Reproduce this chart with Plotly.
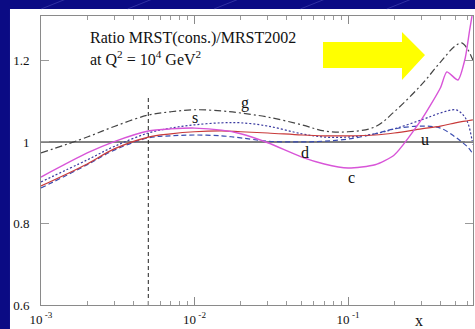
import numpy as np
import plotly.graph_objects as go

# ---- data ----
X = [0.001, 0.002, 0.003, 0.005, 0.007, 0.01, 0.015, 0.02, 0.03, 0.05, 0.07,
     0.1, 0.15, 0.2, 0.3, 0.4, 0.5, 0.55, 0.6, 0.65]
g_vals = [0.973, 1.012, 1.038, 1.066, 1.074, 1.079, 1.076, 1.071, 1.061, 1.042, 1.027,
          1.025, 1.037, 1.074, 1.140, 1.196, 1.236, 1.243, 1.228, 1.201]
s_vals = [0.902, 0.956, 0.989, 1.022, 1.034, 1.042, 1.047, 1.047, 1.039, 1.020, 1.012,
          1.012, 1.020, 1.032, 1.054, 1.071, 1.079, 1.070, 1.049, 0.993]
d_vals = [0.887, 0.944, 0.980, 1.010, 1.015, 1.017, 1.015, 1.010, 1.002, 1.000, 1.002,
          1.007, 1.020, 1.032, 1.039, 1.034, 1.012, 1.000, 0.988, 0.971]
u_vals = [0.892, 0.946, 0.983, 1.012, 1.020, 1.025, 1.027, 1.025, 1.022, 1.017, 1.015,
          1.015, 1.017, 1.022, 1.032, 1.039, 1.047, 1.050, 1.052, 1.054]
c_x = [0.001, 0.002, 0.003, 0.005, 0.007, 0.01, 0.015, 0.02, 0.03, 0.05, 0.07,
       0.1, 0.15, 0.2, 0.3, 0.4, 0.44, 0.52, 0.58, 0.62, 0.66]
c_vals = [0.914, 0.973, 1.001, 1.027, 1.032, 1.034, 1.029, 1.020, 0.998, 0.963, 0.946,
          0.936, 0.944, 0.968, 1.054, 1.133, 1.172, 1.152, 1.206, 1.275, 1.336]

x_cut = 0.005
x_tickvals = [0.001, 0.01, 0.1]
x_ticktext = ["10<sup> -3</sup>", "10<sup> -2</sup>", "10<sup> -1</sup>"]
y_tickvals = [0.6, 0.8, 1.0, 1.2]
y_ticktext = ["0.6", "0.8", "1", "1.2"]
labels = {"g": (0.0213, 1.096), "s": (0.01007, 1.061), "d": (0.0525, 0.975),
          "c": (0.1047, 0.914), "u": (0.318, 1.005)}

SERIF = "Liberation Serif, Times New Roman, serif"

fig = go.Figure()

# background panel
fig.add_shape(type="rect", xref="paper", yref="paper",
              x0=-0.0718, x1=1.01, y0=-0.09, y1=1.024,
              fillcolor="white", line_width=0, layer="below")

# faint diagonal lines on the blue slide background
for k in range(6):
    x0p = -0.2 + 0.2 * k
    fig.add_shape(type="line", xref="paper", yref="paper",
                  x0=x0p, y0=1.024, x1=x0p + 0.06, y1=1.06,
                  line=dict(color="rgba(120,120,220,0.35)", width=1), layer="below")

# reference line at 1 and cut at x=0.005
fig.add_trace(go.Scatter(x=[X[0], 1.0], y=[1, 1], mode="lines",
                         line=dict(color="#555555", width=1.6), hoverinfo="skip"))
fig.add_trace(go.Scatter(x=[x_cut, x_cut], y=[0.6, 1.115], mode="lines",
                         line=dict(color="#222222", width=1, dash="4px,3px"), hoverinfo="skip"))

fig.add_trace(go.Scatter(x=X, y=g_vals, mode="lines", name="g",
                         line=dict(color="#444444", width=1.2, dash="7px,3px,2px,3px", shape="spline")))
fig.add_trace(go.Scatter(x=X, y=s_vals, mode="lines", name="s",
                         line=dict(color="#3a3aa0", width=1.2, dash="2px,2px", shape="spline")))
fig.add_trace(go.Scatter(x=X, y=d_vals, mode="lines", name="d",
                         line=dict(color="#3a4cb0", width=1.2, dash="5px,3px", shape="spline")))
fig.add_trace(go.Scatter(x=X, y=u_vals, mode="lines", name="u",
                         line=dict(color="#c83a3a", width=1.2, shape="spline")))
fig.add_trace(go.Scatter(x=c_x, y=c_vals, mode="lines", name="c",
                         line=dict(color="#d855d8", width=1.4, shape="spline", smoothing=0.6)))

for name, (lx, ly) in labels.items():
    fig.add_annotation(x=np.log10(lx), y=ly, xref="x", yref="y", text=name,
                       showarrow=False, font=dict(family=SERIF, size=16, color="#111111"))

# title text
fig.add_annotation(x=0.109, y=0.925, xref="paper", yref="paper", xanchor="left", yanchor="middle",
                   text="Ratio MRST(cons.)/MRST2002", showarrow=False,
                   font=dict(family=SERIF, size=16, color="#111111"))
fig.add_annotation(x=0.109, y=0.855, xref="paper", yref="paper", xanchor="left", yanchor="middle",
                   text="at Q<sup>2</sup> = 10<sup>4</sup> GeV<sup>2</sup>", showarrow=False,
                   font=dict(family=SERIF, size=16, color="#111111"))
# axis label x
fig.add_annotation(x=0.888, y=-0.052, xref="paper", yref="paper", text="x", showarrow=False,
                   yanchor="middle", font=dict(family=SERIF, size=16, color="#111111"))

# yellow arrow
fig.add_shape(type="path", xref="paper", yref="paper",
              path="M 0.6528 0.910 L 0.8356 0.910 L 0.8356 0.9446 L 0.8889 0.865 "
                   "L 0.8356 0.7785 L 0.8356 0.820 L 0.6528 0.820 Z",
              fillcolor="#ffff00", line_width=0, layer="above")

minor_x = [m * 10.0 ** e for e in (-3, -2, -1) for m in range(2, 10)]

fig.update_layout(
    width=475, height=329,
    margin=dict(l=41, r=2, t=16, b=24),
    paper_bgcolor="#0b0b84", plot_bgcolor="white",
    showlegend=False,
    xaxis=dict(type="log", range=[-3, -0.186], showgrid=False, zeroline=False,
               showline=True, linecolor="#8a8a8a", linewidth=1, mirror="allticks",
               ticks="inside", ticklen=8, tickcolor="#8a8a8a", ticklabelstandoff=2,
               tickvals=x_tickvals, ticktext=x_ticktext,
               tickfont=dict(family=SERIF, size=13, color="#111111"),
               minor=dict(ticks="inside", ticklen=4, tickcolor="#9a9a9a", tickvals=minor_x)),
    yaxis=dict(range=[0.6, 1.309], showgrid=False, zeroline=False,
               showline=True, linecolor="#8a8a8a", linewidth=1, mirror="allticks",
               ticks="inside", ticklen=8, tickcolor="#9a9a9a", ticklabelstandoff=8,
               tickvals=y_tickvals, ticktext=y_ticktext,
               tickfont=dict(family=SERIF, size=13, color="#111111")),
)

fig.write_html("out.html")
